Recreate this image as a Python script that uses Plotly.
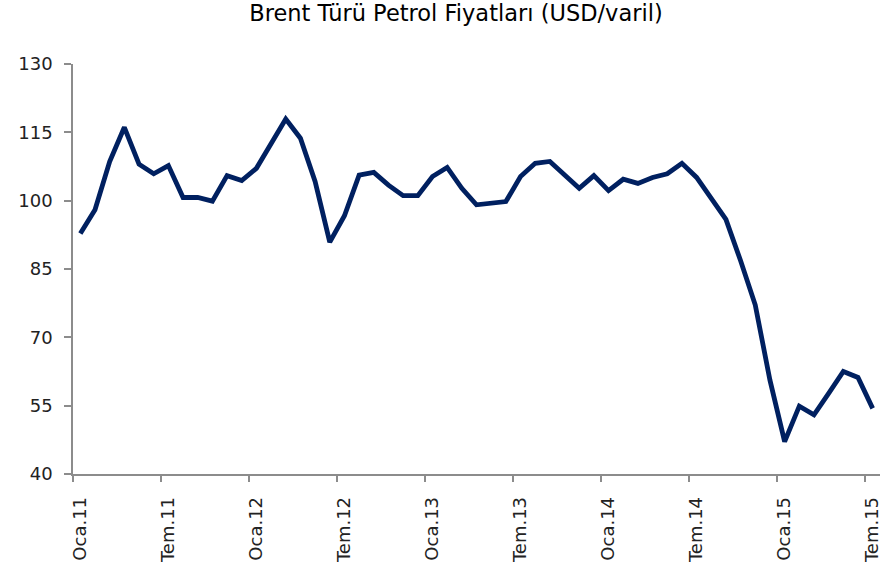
import plotly.graph_objects as go

# monthly Brent prices, Oca.11 .. Tem.15
months = ["Oca", "Şub", "Mar", "Nis", "May", "Haz", "Tem", "Ağu", "Eyl", "Eki", "Kas", "Ara"]
periods = [f"{months[m % 12]}.{11 + m // 12}" for m in range(55)]
brent = [
    92.8, 98.0, 108.6, 116.1, 108.0, 105.9, 107.7, 100.7, 100.7, 99.9, 105.5, 104.4,
    107.1, 112.6, 117.9, 113.7, 104.2, 90.9, 96.7, 105.6, 106.2, 103.4, 101.1, 101.1,
    105.3, 107.3, 102.7, 99.1, 99.4, 99.8, 105.3, 108.2, 108.6, 105.6, 102.7, 105.5,
    102.2, 104.7, 103.8, 105.1, 105.9, 108.2, 105.1, 100.5, 95.9, 86.8, 77.1, 60.6,
    47.1, 54.9, 53.0, 57.7, 62.5, 61.2, 54.4,
]
tick_idx = list(range(0, 55, 6))
tick_text = [periods[i] for i in tick_idx]
y_ticks = [40, 55, 70, 85, 100, 115, 130]

axis_grey = "#8c8c8c"
tick_font = {"family": "DejaVu Sans", "size": 18, "color": "#222222"}

fig = go.Figure(go.Scatter(
    x=list(range(len(brent))), y=brent, mode="lines", cliponaxis=False,
    line={"color": "#002060", "width": 4.8}, hoverinfo="skip",
))
fig.update_layout(
    width=882, height=569, margin={"l": 73, "r": 2, "t": 64, "b": 95},
    plot_bgcolor="white", paper_bgcolor="white", showlegend=False,
    title={"text": "Brent Türü Petrol Fiyatları (USD/varil)", "x": 0.517, "xanchor": "center",
           "y": 0.977, "yanchor": "middle",
           "font": {"family": "DejaVu Sans", "size": 22.5, "color": "black"}},
)
fig.update_xaxes(
    range=[-0.5, 54.5], tickmode="array", tickvals=tick_idx, ticktext=tick_text,
    tickangle=-90, ticks="", showgrid=False, zeroline=False, automargin=False,
    showline=True, linecolor=axis_grey, linewidth=1.5, ticklabelstandoff=14,
    ticklabeloverflow="allow", tickfont=tick_font,
    minor={"tickvals": [i - 0.5 for i in tick_idx], "ticks": "outside", "ticklen": 6,
           "tickcolor": axis_grey, "tickwidth": 1.5, "showgrid": False},
)
fig.update_yaxes(
    range=[40, 130], tickmode="array", tickvals=y_ticks, ticks="outside", ticklen=7,
    tickcolor=axis_grey, tickwidth=1.5, showgrid=False, zeroline=False, automargin=False,
    showline=True, linecolor=axis_grey, linewidth=1.5, ticklabelstandoff=8,
    tickfont=tick_font,
)
# drop the default 8px page margin so the figure fills the window
fig.write_html("out.html", config={"displayModeBar": False},
               post_script="document.body.style.margin = '0';")
